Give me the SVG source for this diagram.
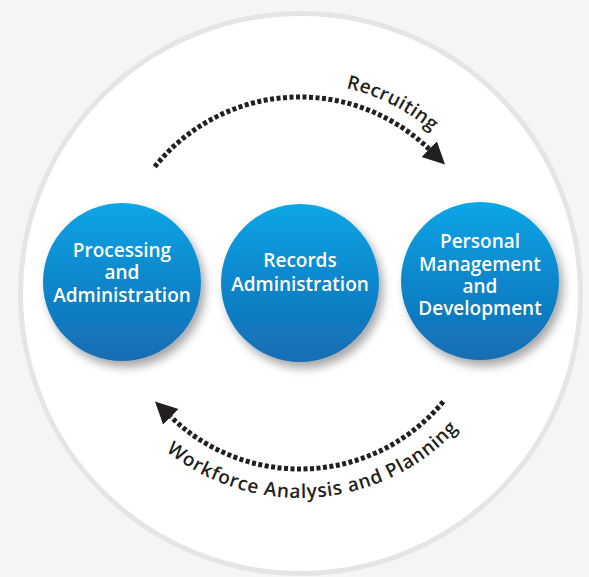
<svg xmlns="http://www.w3.org/2000/svg" width="589" height="577" viewBox="0 0 589 577">
<style>
.node-text{font-family:"Open Sans","DejaVu Sans",sans-serif;font-weight:600;font-size:19px;fill:#ffffff;text-anchor:middle}
.arc-label{font-family:"Open Sans","DejaVu Sans",sans-serif;font-weight:600;font-size:19px;fill:#231f20}
.dotted{fill:none;stroke:#231f20;stroke-width:5;stroke-dasharray:4 2.5}
</style>
<defs>
<linearGradient id="blue" x1="0" y1="0" x2="0" y2="1">
<stop offset="0" stop-color="#0aa6e6"/>
<stop offset="0.5" stop-color="#0b86cc"/>
<stop offset="1" stop-color="#176db3"/>
</linearGradient>
<filter id="shadow" x="-30%" y="-30%" width="160%" height="160%">
<feDropShadow dx="4" dy="6" stdDeviation="5" flood-color="#000" flood-opacity="0.35"/>
</filter>
<marker id="arrow" markerUnits="userSpaceOnUse" markerWidth="24" markerHeight="24" viewBox="0 0 24 24" refX="0" refY="12" orient="auto">
<path d="M0,1 L22,12 L0,23 z" fill="#231f20"/>
</marker>
<path id="topTextPath" d="M346,88 A201,201 0 0,1 454,153.8"/>
<path id="bottomTextPath" d="M166,451 A215,215 0 0,0 469.4,415.4"/>
</defs>
<rect width="589" height="577" fill="#f4f5f5"/>
<circle id="outer" cx="300.5" cy="293.5" r="280" fill="#ffffff" stroke="#e4e5e7" stroke-width="5"/>
<g id="connectors">
<path id="recruiting-arc" class="dotted" d="M154.8,166.7 A186,186 0 0,1 429.2,149.2" marker-end="url(#arrow)"/>
<path id="workforce-arc" class="dotted" d="M443.3,401.6 A186,186 0 0,1 170.8,416.8" marker-end="url(#arrow)"/>
<text class="arc-label"><textPath href="#topTextPath" textLength="97" lengthAdjust="spacing">Recruiting</textPath></text>
<text class="arc-label"><textPath href="#bottomTextPath" textLength="322" lengthAdjust="spacing">Workforce Analysis and Planning</textPath></text>
</g>
<g id="node-processing">
<circle cx="122" cy="282" r="79" fill="url(#blue)" filter="url(#shadow)"/>
<text class="node-text" x="122" y="257">Processing</text>
<text class="node-text" x="122" y="279">and</text>
<text class="node-text" x="122" y="302">Administration</text>
</g>
<g id="node-records">
<circle cx="300" cy="283" r="79" fill="url(#blue)" filter="url(#shadow)"/>
<text class="node-text" x="300" y="267">Records</text>
<text class="node-text" x="300" y="291">Administration</text>
</g>
<g id="node-personal">
<circle cx="480" cy="281" r="79" fill="url(#blue)" filter="url(#shadow)"/>
<text class="node-text" x="480" y="248">Personal</text>
<text class="node-text" x="480" y="271">Management</text>
<text class="node-text" x="480" y="293">and</text>
<text class="node-text" x="480" y="315">Development</text>
</g>
</svg>
